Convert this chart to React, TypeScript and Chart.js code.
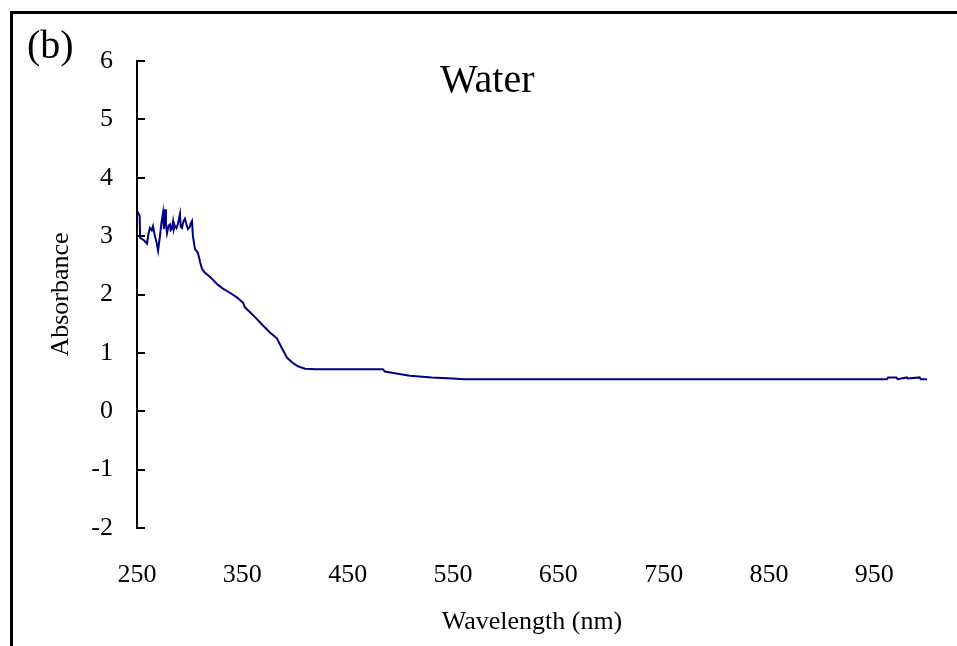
import React, { useEffect, useRef } from "react";
import { Chart, registerables } from "chart.js";

Chart.register(...registerables);

const wavelengths: number[] = [
  250, 251, 252.5, 253, 255, 257, 259.5, 261, 262.3, 264, 265.2, 267, 268.5, 270,
  271.8, 273, 274.7, 275.5, 276.6, 277.5, 278.5, 280, 281.3, 282, 283, 284.2, 285, 286,
  287.5, 289, 290.8, 291.5, 292.7, 294, 295.5, 297, 298.4, 300, 301, 302.2, 303.1, 305,
  307.9, 310, 311.7, 314.5, 318, 321.2, 325.9, 331.6, 338.2, 344.9, 350.6, 352.5, 360,
  368, 376.2, 382.8, 387.6, 392.3, 397.1, 402.8, 409.4, 420, 483.4, 485.3, 494.8, 509,
  529.9, 549.8, 560, 962, 963, 971, 972, 981, 982, 993, 994, 1000,
];

const absorbance: number[] = [
  3.38, 3.4, 3.35, 2.97, 2.95, 2.92, 2.87, 3.05, 3.14, 3.1, 3.17, 3.0, 2.9, 2.75,
  3.0, 3.2, 3.4, 3.12, 3.46, 3.2, 3.05, 3.18, 3.2, 3.1, 3.12, 3.25, 3.12, 3.18,
  3.14, 3.22, 3.38, 3.16, 3.14, 3.25, 3.3, 3.2, 3.12, 3.15, 3.22, 3.26, 3.0, 2.78,
  2.71, 2.55, 2.44, 2.37, 2.32, 2.27, 2.18, 2.1, 2.03, 1.95, 1.86, 1.78, 1.65,
  1.5, 1.35, 1.25, 1.08, 0.92, 0.84, 0.77, 0.73, 0.72, 0.72, 0.68, 0.65, 0.61,
  0.58, 0.56, 0.55, 0.55, 0.58, 0.58, 0.55, 0.58, 0.56, 0.58, 0.55, 0.55,
];

const xTicks: number[] = [250, 350, 450, 550, 650, 750, 850, 950];
const yTicks: number[] = [-2, -1, 0, 1, 2, 3, 4, 5, 6];

const seriesName = "Water";
const panelLabel = "(b)";
const xTitle = "Wavelength (nm)";
const yTitle = "Absorbance";

const SERIF = '"Liberation Serif", "Times New Roman", serif';

const framePlugin = {
  id: "framePlugin",
  afterDraw(chart: any) {
    const { ctx, chartArea } = chart;
    const y = chart.scales.y;
    ctx.save();
    ctx.fillStyle = "#000";
    // outer border (top and left)
    ctx.fillRect(10, 11, 947, 3);
    ctx.fillRect(10, 11, 3, 635);
    // y axis line with inward ticks
    ctx.strokeStyle = "#000";
    ctx.lineWidth = 2;
    const ax = chartArea.left;
    ctx.beginPath();
    ctx.moveTo(ax, y.getPixelForValue(y.max));
    ctx.lineTo(ax, y.getPixelForValue(y.min));
    y.ticks.forEach((t: any) => {
      const py = Math.round(y.getPixelForValue(t.value));
      ctx.moveTo(ax - 1, py);
      ctx.lineTo(ax + 8, py);
    });
    ctx.stroke();
    // texts
    ctx.textBaseline = "alphabetic";
    ctx.textAlign = "left";
    ctx.font = `40px ${SERIF}`;
    ctx.fillText(panelLabel, 27, 58);
    ctx.fillText(seriesName, 440, 92);
    ctx.restore();
  },
};

export default function App() {
  const ref = useRef<HTMLCanvasElement>(null);
  useEffect(() => {
    if (!ref.current) return;
    const tickFont = { family: SERIF, size: 26 };
    const titleFont = { family: SERIF, size: 26 };
    const chart = new Chart(ref.current, {
      type: "line",
      data: {
        datasets: [
          {
            label: seriesName,
            data: wavelengths.map((w, i) => ({ x: w, y: absorbance[i] })),
            borderColor: "#000080",
            borderWidth: 2,
            pointRadius: 0,
            tension: 0,
            fill: false,
          },
        ],
      },
      options: {
        animation: false,
        responsive: false,
        maintainAspectRatio: false,
        devicePixelRatio: 1,
        layout: { padding: { top: 61, right: 30, bottom: 0, left: 0 } },
        plugins: {
          legend: { display: false },
          tooltip: { enabled: false },
          title: { display: false },
        },
        scales: {
          x: {
            type: "linear",
            min: 250,
            max: 1000,
            afterBuildTicks: (s: any) => {
              s.ticks = xTicks.map((v) => ({ value: v }));
            },
            afterFit: (s: any) => {
              s.height = 118;
            },
            grid: { display: false },
            border: { display: false },
            ticks: {
              font: tickFont,
              color: "#000",
              padding: 24,
              maxRotation: 0,
              autoSkip: false,
              callback: (v: any) => String(v),
            },
            title: {
              display: true,
              text: xTitle,
              font: titleFont,
              color: "#000",
              padding: { top: 0, bottom: 8 },
            },
          },
          y: {
            type: "linear",
            min: -2,
            max: 6,
            afterBuildTicks: (s: any) => {
              s.ticks = yTicks.map((v) => ({ value: v }));
            },
            afterFit: (s: any) => {
              s.width = 137;
            },
            grid: { display: false },
            border: { display: false },
            ticks: {
              font: tickFont,
              color: "#000",
              padding: 16,
              callback: (v: any) => String(v),
            },
            title: {
              display: true,
              text: yTitle,
              font: titleFont,
              color: "#000",
              padding: { top: 46, bottom: 0 },
            },
          },
        },
      },
      plugins: [framePlugin],
    });
    return () => chart.destroy();
  }, []);
  return (
    <div style={{ position: "absolute", left: 0, top: 0, width: 957, height: 646, background: "#fff" }}>
      <canvas ref={ref} width={957} height={646} style={{ display: "block" }} />
    </div>
  );
}
